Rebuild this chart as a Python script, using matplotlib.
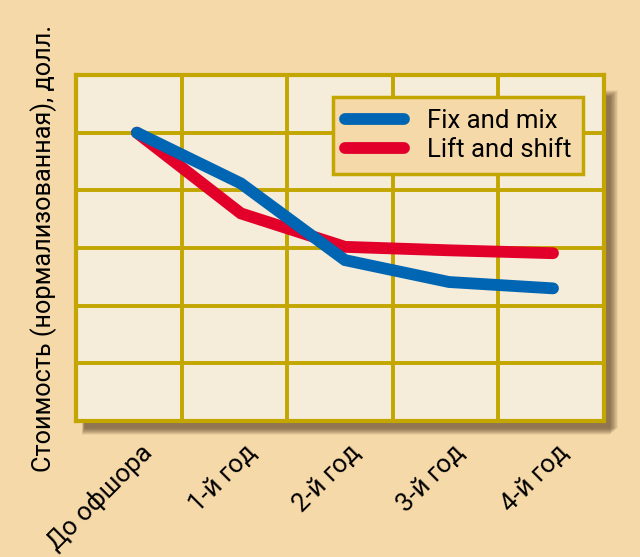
import matplotlib.pyplot as plt
from matplotlib.patches import Rectangle
from matplotlib.transforms import ScaledTranslation
import numpy as np

# Данные
categories = ['До офшора', '1-й год', '2-й год', '3-й год', '4-й год']
fix_and_mix = [5.0, 4.12, 2.79, 2.41, 2.30]
lift_and_shift = [5.0, 3.60, 3.02, 2.96, 2.91]

bg_outer = '#F6D9A8'
bg_inner = '#F5ECD9'
grid_col = '#C3A600'
blue = '#0066B3'
red = '#E2002B'

plt.rcParams['font.family'] = ['Roboto', 'DejaVu Sans']

fig = plt.figure(figsize=(6.4, 5.57), dpi=100, facecolor=bg_outer)
ax_pos = [76 / 640, 1 - 421 / 557, 528 / 640, 346 / 557]

# размытая тень справа и снизу
for i in range(14):
    grow = i / 640
    shadow = Rectangle((ax_pos[0] + 6 / 640 + grow * 0.2, ax_pos[1] - 14 / 557 + grow * 0.6),
                       ax_pos[2] + grow * 0.4, ax_pos[3] - 8 / 557,
                       transform=fig.transFigure, facecolor='#4A3418',
                       alpha=0.06, edgecolor='none', zorder=0)
    fig.patches.append(shadow)

ax = fig.add_axes(ax_pos, facecolor=bg_inner, zorder=1)
x = np.arange(len(categories))

ax.plot(x, lift_and_shift, color=red, lw=8.5, solid_capstyle='round',
        solid_joinstyle='miter', label='Lift and shift', zorder=3)
ax.plot(x, fix_and_mix, color=blue, lw=8.5, solid_capstyle='round',
        solid_joinstyle='miter', label='Fix and mix', zorder=4)

xmin, xmax = -0.585, 4.49
ax.set_xlim(xmin, xmax)
ax.set_ylim(0, 6)
ax.set_xticks(x)
ax.set_xticklabels(categories, rotation=45, ha='right', va='top',
                   rotation_mode='anchor', fontsize=18.5)
ax.set_xticks(np.linspace(xmin, xmax, 6), minor=True)
ax.set_yticks(range(7))
ax.set_yticklabels([])
ax.tick_params(axis='both', which='both', length=0)
ax.tick_params(axis='x', pad=14)
for lbl in ax.get_xticklabels():
    lbl.set_transform(lbl.get_transform() + ScaledTranslation(0.03, 0, fig.dpi_scale_trans))
ax.grid(True, axis='x', which='minor', color=grid_col, lw=2.8)
ax.grid(True, axis='y', which='major', color=grid_col, lw=2.8)
ax.set_axisbelow(True)
for s in ax.spines.values():
    s.set_color(grid_col)
    s.set_linewidth(3)

ax.set_ylabel('Стоимость (нормализованная), долл.', fontsize=18.2, va='center')
ax.yaxis.set_label_coords(-0.061, 0.5)

handles, labels = ax.get_legend_handles_labels()
leg = ax.legend(handles[::-1], labels[::-1], loc='upper right', fontsize=18.5,
                frameon=True, fancybox=False, facecolor=bg_outer,
                edgecolor=grid_col, framealpha=1, handlelength=2.3,
                borderpad=0.45, labelspacing=0.22, handletextpad=0.9,
                borderaxespad=0, bbox_to_anchor=(0.960, 0.936))
leg.get_frame().set_linewidth(2.5)
leg.set_zorder(5)

fig.savefig('out.png', dpi=100, facecolor=bg_outer)
